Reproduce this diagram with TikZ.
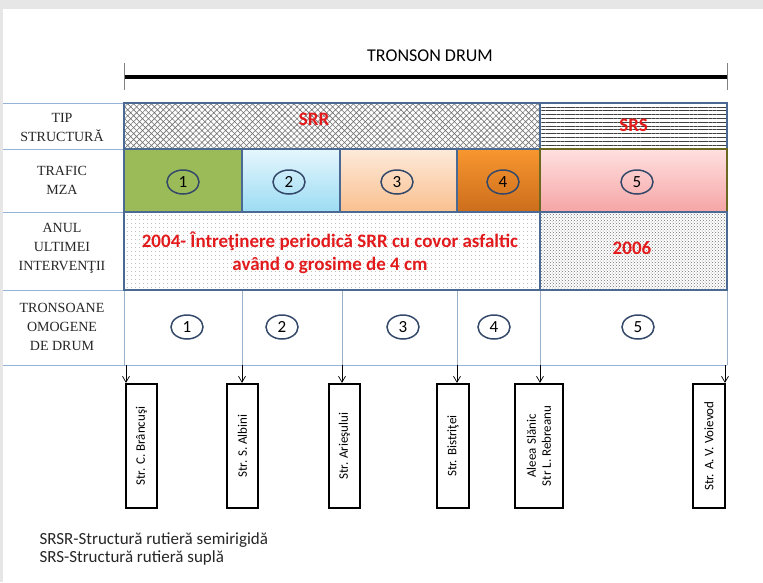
\documentclass[tikz,border=0pt]{standalone}
\usepackage{fontspec}
\setmainfont{Carlito}
\newfontfamily\lblfont{Liberation Serif}
\usetikzlibrary{patterns,patterns.meta,shapes.geometric,arrows.meta}
\definecolor{bordergray}{HTML}{E6E6E6}
\definecolor{cellblue}{HTML}{4A6A94}
\definecolor{rowblue}{HTML}{95B3D7}
\definecolor{gridblue}{HTML}{9AAFC8}
\definecolor{circblue}{HTML}{34496A}
\definecolor{srred}{HTML}{E31A1C}
\definecolor{mzagreen}{HTML}{9BBB59}
\definecolor{bluetop}{HTML}{E5F6FD}
\definecolor{bluebot}{HTML}{9CDCF3}
\definecolor{peachtop}{HTML}{FDEADA}
\definecolor{peachbot}{HTML}{FAC08F}
\definecolor{orangetop}{HTML}{F8962F}
\definecolor{orangebot}{HTML}{CC6D1C}
\definecolor{pinktop}{HTML}{FFE0E0}
\definecolor{pinkbot}{HTML}{F6A5A5}
\tikzstyle{lbl}=[font=\lblfont\fontsize{14}{19}\selectfont, align=center, text=black!85]
\tikzstyle{cell}=[draw=cellblue, line width=1.5, inner sep=0]
\tikzstyle{nr}=[ellipse, draw=circblue, line width=1.5, minimum width=32, minimum height=24, inner sep=0, font=\fontsize{17}{17}\selectfont]
\tikzstyle{redtxt}=[text=srred, font=\bfseries\fontsize{19}{23}\selectfont, align=center]
\tikzstyle{strbox}=[draw=black, line width=2.2, rotate=90, minimum width=124, inner sep=0, font=\fontsize{13}{15}\selectfont, align=center]
\tikzstyle{rowline}=[rowblue, line width=1]
\tikzstyle{gridline}=[gridblue, line width=0.8]

\begin{document}
\begin{tikzpicture}[x=1pt, y=-1pt]
\useasboundingbox (0,0) rectangle (763,582);
\fill[bordergray] (0,0) rectangle (763,582);
\fill[white] (3,9) rectangle (763,582);
\node at (430,56)[font=\fontsize{18}{18}\selectfont](title){TRONSON DRUM};
\coordinate (l) at (124,77);
\coordinate (r) at (727,77);
\draw[line width=3.5] (l)--(r);
\draw[gray] (l)++(0,-14)--++(0,27);
\draw[gray] (r)++(0,-14)--++(0,27);
\foreach \y in {103,149,212,290} {\draw[rowline] (3,\y)--(124,\y);}
\draw[rowline] (3,365)--(727,365);
\foreach \x in {124,242,342,457,540,727} {\draw[gridline] (\x,290)--(\x,365);}
\node at (62,127)[lbl](tip){TIP\\STRUCTURĂ};
\node at (62,180)[lbl](trafic){TRAFIC\\MZA};
\node at (62,248)[lbl](anul){ANUL\\ULTIMEI\\INTERVENŢII};
\node at (62,327)[lbl](tronsoane){TRONSOANE\\OMOGENE\\DE DRUM};
\node at (332,126)[cell, minimum width=416, minimum height=46, pattern={Hatch[angle=45,distance=4.2pt,line width=0.6pt]}, pattern color=black!55](srr){};
\node at (633.5,126)[cell, minimum width=187, minimum height=46, pattern={Lines[angle=0,distance=3.8pt,line width=0.8pt]}, pattern color=black!75](srs){};
\node at (314,119)[redtxt](srrt){SRR};
\node at (633.5,125)[redtxt](srst){SRS};
\node at (183,180.5)[cell, minimum width=118, minimum height=63, fill=mzagreen](m1){};
\node at (291,180.5)[cell, minimum width=98, minimum height=63, top color=bluetop, bottom color=bluebot](m2){};
\node at (398.5,180.5)[cell, minimum width=117, minimum height=63, top color=peachtop, bottom color=peachbot](m3){};
\node at (498.5,180.5)[cell, minimum width=83, minimum height=63, top color=orangetop, bottom color=orangebot](m4){};
\node at (633.5,180.5)[cell, draw=olive!70!black, minimum width=187, minimum height=63, top color=pinktop, bottom color=pinkbot](m5){};
\foreach \i/\x in {1/183,2/289,3/397,4/503,5/637} {\node at (\x,182)[nr](c\i){\i};}
\node at (332,251)[cell, minimum width=416, minimum height=78, pattern={Dots[distance=4pt,radius=0.45pt]}, pattern color=black!50](a1){};
\node at (633.5,251)[cell, minimum width=187, minimum height=78, pattern=crosshatch dots, pattern color=black!55](a2){};
\node at (330,253)[redtxt](a1t){2004- Întreţinere periodică SRR cu covor asfaltic\\având o grosime de 4 cm};
\node at (632,248)[redtxt](a2t){2006};
\foreach \i/\x in {1/187,2/282,3/403,4/494,5/638} {\node at (\x,327)[nr](d\i){\i};}
\node at (141.5,446)[strbox, minimum height=31](s1){Str. C. Brâncuşi};
\node at (242.5,446)[strbox, minimum height=31](s2){Str. S. Albini};
\node at (344.5,446)[strbox, minimum height=31](s3){Str. Arieşului};
\node at (453,446)[strbox, minimum height=32](s4){Str. Bistriţei};
\node at (539,446)[strbox, minimum height=48](s5){Aleea Slănic\\Str L. Rebreanu};
\node at (709,446)[strbox, minimum height=32](s6){Str. A. V. Voievod};
\foreach \i/\x in {1/126,2/242,3/342,4/457,5/540,6/725} {
\coordinate (t\i) at (\x,365);
\draw[-{Straight Barb[length=6pt,width=7pt]}, line width=0.7] (t\i)--(t\i |- s\i.east);
}
\node at (36,549)[anchor=west, font=\fontsize{17}{18}\selectfont, align=left, text=black!85](legend){SRSR-Structură rutieră semirigidă\\SRS-Structură rutieră suplă};
\end{tikzpicture}
\end{document}
